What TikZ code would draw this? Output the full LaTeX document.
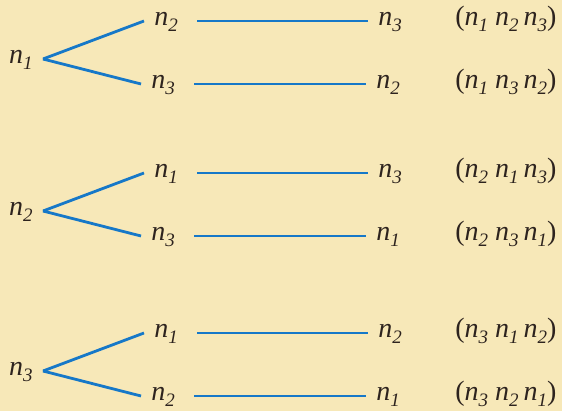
\documentclass[tikz,border=0pt]{standalone}
\usepackage{fontspec}
\setmainfont{Liberation Serif}
\usetikzlibrary{positioning}

\definecolor{paper}{RGB}{247,232,184}
\definecolor{treeblue}{RGB}{22,120,200}
\definecolor{ink}{RGB}{45,35,30}

\newcommand{\nn}[1]{\textit{n}\raisebox{-3pt}{\fontsize{9.5}{10}\selectfont\textit{#1}}}
\newcommand{\perm}[3]{(\nn{#1}\hspace{3.5pt}\nn{#2}\hspace{2.5pt}\nn{#3})}

\begin{document}
\begin{tikzpicture}[x=0.5pt, y=-0.5pt,
  lbl/.style={inner xsep=5pt, inner ysep=1pt, text=ink,
    font=\fontsize{14}{16}\selectfont},
  link/.style={draw=treeblue, line width=1.4pt},
  row/.style={link, shorten <=4.5pt}]

  \useasboundingbox (0,0) rectangle (562,411);
  \fill[paper] (0,0) rectangle (562,411);

  % ====== 第一组：以 n1 开头 ======
  \begin{scope}[shift={(43,59)}]
    \node[lbl, anchor=mid east] (r1) at (0,0) {\nn1};
    \node[lbl, anchor=mid west] (a1) at (101,-38) {\nn2};
    \node[lbl, anchor=mid west] (b1) at (98,25) {\nn3};
    \node[lbl, anchor=mid west] (c1) at (325,-38) {\nn3};
    \node[lbl, anchor=mid west] (d1) at (323,25) {\nn2};
    \node[lbl, anchor=mid west] (p1) at (402,-38) {\perm123};
    \node[lbl, anchor=mid west] (q1) at (402,25) {\perm132};
    \draw[link] (r1.mid east) -- (a1.mid west);
    \draw[link] (r1.mid east) -- (b1.mid west);
    \draw[row] (a1.mid east) -- (c1.mid west);
    \draw[row] (b1.mid east) -- (d1.mid west);
  \end{scope}

  % ====== 第二组：以 n2 开头 ======
  \begin{scope}[shift={(43,211)}]
    \node[lbl, anchor=mid east] (r2) at (0,0) {\nn2};
    \node[lbl, anchor=mid west] (a2) at (101,-38) {\nn1};
    \node[lbl, anchor=mid west] (b2) at (98,25) {\nn3};
    \node[lbl, anchor=mid west] (c2) at (325,-38) {\nn3};
    \node[lbl, anchor=mid west] (d2) at (323,25) {\nn1};
    \node[lbl, anchor=mid west] (p2) at (402,-38) {\perm213};
    \node[lbl, anchor=mid west] (q2) at (402,25) {\perm231};
    \draw[link] (r2.mid east) -- (a2.mid west);
    \draw[link] (r2.mid east) -- (b2.mid west);
    \draw[row] (a2.mid east) -- (c2.mid west);
    \draw[row] (b2.mid east) -- (d2.mid west);
  \end{scope}

  % ====== 第三组：以 n3 开头 ======
  \begin{scope}[shift={(43,371)}]
    \node[lbl, anchor=mid east] (r3) at (0,0) {\nn3};
    \node[lbl, anchor=mid west] (a3) at (101,-38) {\nn1};
    \node[lbl, anchor=mid west] (b3) at (98,25) {\nn2};
    \node[lbl, anchor=mid west] (c3) at (325,-38) {\nn2};
    \node[lbl, anchor=mid west] (d3) at (323,25) {\nn1};
    \node[lbl, anchor=mid west] (p3) at (402,-38) {\perm312};
    \node[lbl, anchor=mid west] (q3) at (402,25) {\perm321};
    \draw[link] (r3.mid east) -- (a3.mid west);
    \draw[link] (r3.mid east) -- (b3.mid west);
    \draw[row] (a3.mid east) -- (c3.mid west);
    \draw[row] (b3.mid east) -- (d3.mid west);
  \end{scope}

\end{tikzpicture}
\end{document}
